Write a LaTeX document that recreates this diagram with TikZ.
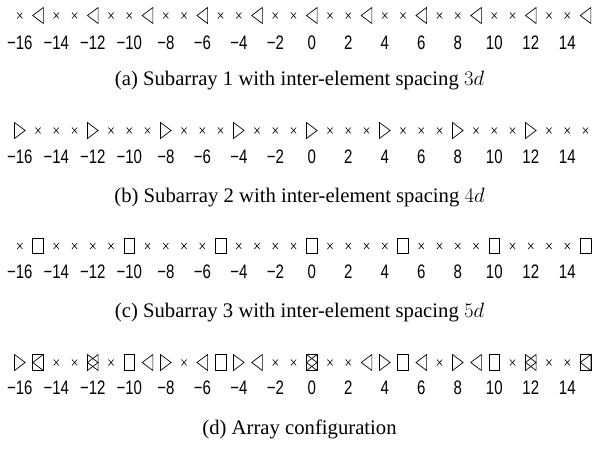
\documentclass[tikz,border=0pt]{standalone}
\usepackage{fontspec}
\setmainfont{Liberation Serif}
\newfontfamily\ticksf{Liberation Sans}
\begin{document}
\begin{tikzpicture}[x=1pt,y=-1pt,
  mk/.style={draw=black,line width=0.7pt,line join=miter},
  ticklab/.style={inner sep=0pt,font=\ticksf\fontsize{15}{15}\selectfont},
  captext/.style={inner sep=0pt,anchor=base,font=\fontsize{20.7}{24}\selectfont},
  ltri/.pic={\draw[mk] (-5.3,0) -- (5.3,-8) -- (5.3,8) -- cycle;},
  rtri/.pic={\draw[mk] (5.3,0) -- (-5.3,-8) -- (-5.3,8) -- cycle;},
  sqr/.pic={\draw[mk] (-5.3,-7.8) rectangle (5.3,7.8);},
  crs/.pic={\draw[mk,line width=0.6pt] (-2.6,-3) -- (2.6,3) (-2.6,3) -- (2.6,-3);}
]
\useasboundingbox (0,0) rectangle (593,454);

% row 1: subarray 1 (spacing 3)
\foreach \n in {-16,...,15} {
  \pgfmathsetmacro\xx{19.8+18.25*(\n+16)}
  \pgfmathtruncatemacro\ma{mod(\n+60,3)}
  \ifnum\ma=0 \pic at (\xx,15.5) {ltri}; \else \pic at (\xx,15.5) {crs}; \fi
}
% row 2: subarray 2 (spacing 4)
\foreach \n in {-16,...,15} {
  \pgfmathsetmacro\xx{19.8+18.25*(\n+16)}
  \pgfmathtruncatemacro\mb{mod(\n+60,4)}
  \ifnum\mb=0 \pic at (\xx,130.5) {rtri}; \else \pic at (\xx,130.5) {crs}; \fi
}
% row 3: subarray 3 (spacing 5)
\foreach \n in {-16,...,15} {
  \pgfmathsetmacro\xx{19.8+18.25*(\n+16)}
  \pgfmathtruncatemacro\mc{mod(\n+60,5)}
  \ifnum\mc=0 \pic at (\xx,246) {sqr}; \else \pic at (\xx,246) {crs}; \fi
}
% row 4: full array
\foreach \n in {-16,...,15} {
  \pgfmathsetmacro\xx{19.8+18.25*(\n+16)}
  \pgfmathtruncatemacro\ma{mod(\n+60,3)}
  \pgfmathtruncatemacro\mb{mod(\n+60,4)}
  \pgfmathtruncatemacro\mc{mod(\n+60,5)}
  \pgfmathtruncatemacro\none{and(\ma>0,and(\mb>0,\mc>0))}
  \ifnum\ma=0 \pic at (\xx,362.5) {ltri}; \fi
  \ifnum\mb=0 \pic at (\xx,362.5) {rtri}; \fi
  \ifnum\mc=0 \pic at (\xx,362.5) {sqr}; \fi
  \ifnum\none=1 \pic at (\xx,362.5) {crs}; \fi
}

% tick labels
\foreach \yl [count=\r] in {42.5,157,272,387.5} {
  \foreach \n [count=\i] in {-16,-14,...,14} {
    \pgfmathsetmacro\xx{19.8+18.25*(\n+16)}
    \pgfmathtruncatemacro\an{abs(\n)}
    \node[ticklab] (lab\r-\i) at (\xx,\yl)
      {\scalebox{1}[1.3]{\ifnum\n<0 −\an\else\an\fi}};
  }
}

% captions
\node[captext] (capa) at (299.5,86) {(a) Subarray 1 with inter-element spacing $3d$};
\node[captext] (capb) at (299.5,202) {(b) Subarray 2 with inter-element spacing $4d$};
\node[captext] (capc) at (299.5,317.5) {(c) Subarray 3 with inter-element spacing $5d$};
\node[captext] (capd) at (299.5,434) {(d) Array configuration};
\end{tikzpicture}
\end{document}
